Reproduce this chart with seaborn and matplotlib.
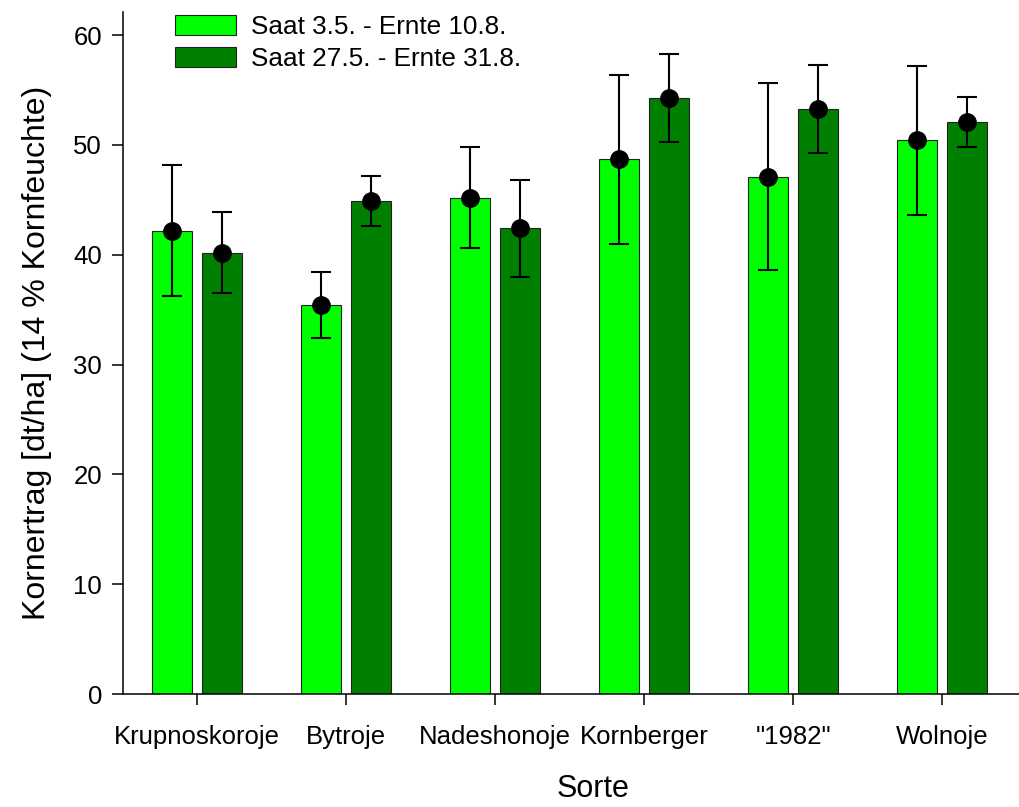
#plot.py

import pandas as pd
import matplotlib.pyplot as plt
import seaborn as sns

#Kornertrag je Sorte, zwei Saattermine (Mittelwert +/- Standardabweichung)
sorten = ['Krupnoskoroje', 'Bytroje', 'Nadeshonoje', 'Kornberger', '"1982"', 'Wolnoje']
termine = ['Saat 3.5. - Ernte 10.8.', 'Saat 27.5. - Ernte 31.8.']

ertrag_frueh = [42.2, 35.4, 45.2, 48.7, 47.1, 50.4]
sd_frueh = [6.0, 3.0, 4.6, 7.7, 8.5, 6.8]
ertrag_spaet = [40.2, 44.9, 42.4, 54.3, 53.3, 52.1]
sd_spaet = [3.7, 2.3, 4.4, 4.0, 4.0, 2.3]

farben = ['#00ff00', '#008000']


def build_frame():
    """long format table for seaborn"""
    df = pd.DataFrame({
        'Sorte': sorten * 2,
        'Termin': [termine[0]] * len(sorten) + [termine[1]] * len(sorten),
        'Ertrag': ertrag_frueh + ertrag_spaet,
        'SD': sd_frueh + sd_spaet,
    })
    return df


def run():
    df = build_frame()

    sns.set_style('ticks')
    plt.rcParams['font.family'] = ['Liberation Sans', 'DejaVu Sans']
    plt.rcParams['text.color'] = 'black'
    plt.rcParams['axes.labelcolor'] = 'black'
    plt.rcParams['xtick.color'] = 'black'
    plt.rcParams['ytick.color'] = 'black'

    fig = plt.figure(figsize=(10.2, 8.07), dpi=100)
    ax = fig.add_axes([123 / 1020, 113 / 807, 897 / 1020, 682 / 807])

    sns.barplot(data=df, x='Sorte', y='Ertrag', hue='Termin', order=sorten,
                hue_order=termine, palette=farben, saturation=1,
                width=0.664, gap=0.19, errorbar=None,
                edgecolor='#222222', linewidth=0.8, ax=ax)

    #error bars + mean markers on top of each bar
    for cont, termin in zip(ax.containers, termine):
        sub = df[df['Termin'] == termin].set_index('Sorte').loc[sorten]
        xs = [b.get_x() + b.get_width() / 2 for b in cont]
        ax.errorbar(xs, sub['Ertrag'], yerr=sub['SD'], fmt='o', color='black',
                    markersize=12.5, elinewidth=1.5, capsize=7.5, capthick=1.5,
                    zorder=5)

    ax.set_ylim(0, 62.1)
    ax.set_xlim(-0.497, 5.523)
    ax.set_yticks([0, 10, 20, 30, 40, 50, 60])

    ax.set_xlabel('Sorte', fontsize=22)
    ax.xaxis.set_label_coords(0.524, -0.118)
    ax.set_ylabel('Kornertrag [dt/ha] (14 % Kornfeuchte)', fontsize=23)
    ax.yaxis.set_label_coords(-0.079, 0.5)

    ax.tick_params(axis='both', labelsize=18.5, direction='out', length=8,
                   width=1.1, color='black')
    ax.tick_params(axis='y', pad=7)
    ax.tick_params(axis='x', pad=14)
    for side in ['left', 'bottom']:
        ax.spines[side].set_linewidth(1.1)
        ax.spines[side].set_color('black')
    sns.despine(ax=ax)

    ax.legend(loc='upper left', bbox_to_anchor=(175 / 1020 - 0.003, 1.0 - 12 / 807),
              bbox_transform=fig.transFigure, frameon=False, fontsize=18.8,
              handlelength=2.34, handleheight=0.8, handletextpad=0.6,
              labelspacing=0.33, borderaxespad=0, borderpad=0.1, title=None)

    fig.savefig('out.png', dpi=100)


if __name__ == '__main__':
    run()
